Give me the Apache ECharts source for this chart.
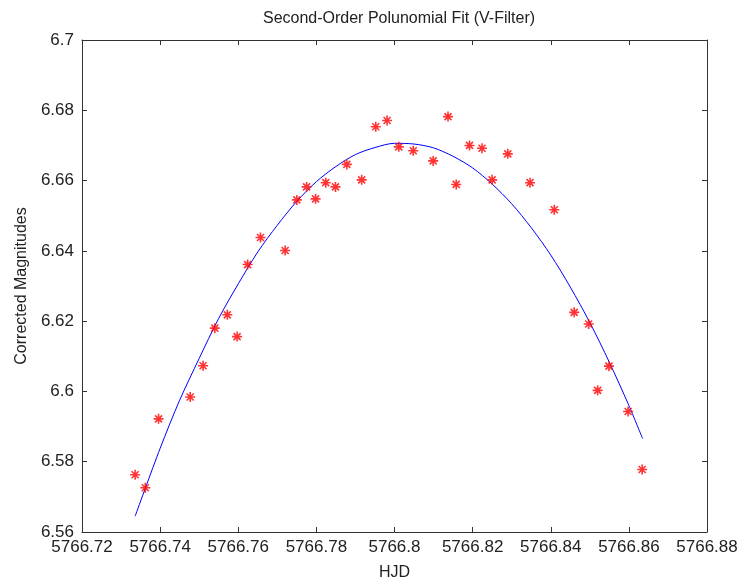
<!DOCTYPE html>
<html>
<head>
<meta charset="utf-8">
<title>Second-Order Polunomial Fit (V-Filter)</title>
<script src="https://cdn.jsdelivr.net/npm/echarts@6/dist/echarts.min.js"></script>
<style>
  html, body { margin: 0; padding: 0; background: #fff; }
  #chart { width: 741px; height: 586px; }
</style>
</head>
<body>
<div id="chart"></div>
<script>
// observed points (HJD, corrected magnitude)
var hjd = [
  5766.7336, 5766.7362, 5766.7396, 5766.7477, 5766.7510, 5766.7540, 5766.7572,
  5766.7597, 5766.7624, 5766.7657, 5766.7720, 5766.7750, 5766.7775, 5766.7798,
  5766.7824, 5766.7849, 5766.7878, 5766.7916, 5766.7952, 5766.7981, 5766.8011,
  5766.8048, 5766.8099, 5766.8137, 5766.8158, 5766.8192, 5766.8224, 5766.8250,
  5766.8290, 5766.8347, 5766.8409, 5766.8460, 5766.8497, 5766.8520, 5766.8549,
  5766.8598, 5766.8634
];
var mag = [
  6.5763, 6.5726, 6.5922, 6.5984, 6.6073, 6.6180, 6.6218,
  6.6156, 6.6361, 6.6438, 6.6401, 6.6545, 6.6582, 6.6548,
  6.6594, 6.6582, 6.6646, 6.6602, 6.6753, 6.6771, 6.6696,
  6.6685, 6.6656, 6.6782, 6.6589, 6.6700, 6.6692, 6.6602,
  6.6676, 6.6594, 6.6517, 6.6225, 6.6192, 6.6003, 6.6072,
  6.5943, 6.5778
];

// fitted curve
var fitHjd = [
  5766.7336, 5766.74, 5766.745, 5766.75, 5766.755, 5766.76, 5766.765, 5766.77,
  5766.775, 5766.78, 5766.785, 5766.79, 5766.795, 5766.80, 5766.805, 5766.81,
  5766.815, 5766.82, 5766.825, 5766.83, 5766.835, 5766.84, 5766.845, 5766.85,
  5766.855, 5766.86, 5766.8635
];
var fitMag = [
  6.5645, 6.5838, 6.5975, 6.6094, 6.6208, 6.6306, 6.6397, 6.6473,
  6.6541, 6.6597, 6.6640, 6.6674, 6.6694, 6.6706, 6.6704, 6.6693,
  6.6669, 6.6636, 6.6590, 6.6534, 6.6466, 6.6388, 6.6297, 6.6196,
  6.6083, 6.5960, 6.5866
];

var font = "'Liberation Sans', Arial, sans-serif";
var axisColor = "#333";

function trimNum(v) {
  return String(parseFloat(v.toFixed(2)));
}

var chart = echarts.init(document.getElementById("chart"));

var baseX = {
  type: "value",
  min: 5766.72,
  max: 5766.88,
  interval: 0.02,
  splitLine: { show: false },
  axisLine: { show: true, onZero: false, lineStyle: { color: axisColor, width: 1 } },
  axisTick: { show: true, inside: true, length: 5, lineStyle: { color: axisColor } }
};
var baseY = {
  type: "value",
  min: 6.56,
  max: 6.7,
  interval: 0.02,
  splitLine: { show: false },
  axisLine: { show: true, onZero: false, lineStyle: { color: axisColor, width: 1 } },
  axisTick: { show: true, inside: true, length: 5, lineStyle: { color: axisColor } }
};

var option = {
  backgroundColor: "#fff",
  animation: false,
  title: {
    text: "Second-Order Polunomial Fit (V-Filter)",
    left: 394,
    textAlign: "center",
    top: 6,
    textStyle: { fontFamily: font, fontSize: 16, fontWeight: "normal", color: "#222" }
  },
  grid: { left: 82, right: 34, top: 40, bottom: 54 },
  xAxis: [
    Object.assign({}, baseX, {
      position: "bottom",
      name: "HJD",
      nameLocation: "middle",
      nameGap: 33,
      nameTextStyle: { fontFamily: font, fontSize: 16, color: "#222" },
      axisLabel: {
        fontFamily: font, fontSize: 17, color: "#222", margin: 7,
        formatter: trimNum
      }
    }),
    Object.assign({}, baseX, { position: "top", axisLabel: { show: false } })
  ],
  yAxis: [
    Object.assign({}, baseY, {
      position: "left",
      name: "Corrected Magnitudes",
      nameLocation: "middle",
      nameGap: 51,
      nameTextStyle: { fontFamily: font, fontSize: 16, color: "#222" },
      axisLabel: {
        fontFamily: font, fontSize: 17, color: "#222", margin: 8,
        formatter: trimNum
      }
    }),
    Object.assign({}, baseY, { position: "right", axisLabel: { show: false } })
  ],
  series: [
    {
      name: "Fit",
      type: "line",
      xAxisIndex: 0,
      yAxisIndex: 0,
      data: fitHjd.map(function (x, i) { return [x, fitMag[i]]; }),
      smooth: 0.3,
      showSymbol: false,
      lineStyle: { color: "#0000ff", width: 1 },
      z: 2
    },
    {
      name: "Data",
      type: "scatter",
      xAxisIndex: 0,
      yAxisIndex: 0,
      data: hjd.map(function (x, i) { return [x, mag[i]]; }),
      symbol: "path://M5,0L5,10M0,5L10,5M1.5,1.5L8.5,8.5M1.5,8.5L8.5,1.5",
      symbolSize: 10,
      itemStyle: { color: "none", borderColor: "#ff0000", borderWidth: 1.6 },
      z: 3
    }
  ]
};

chart.setOption(option);
</script>
</body>
</html>
